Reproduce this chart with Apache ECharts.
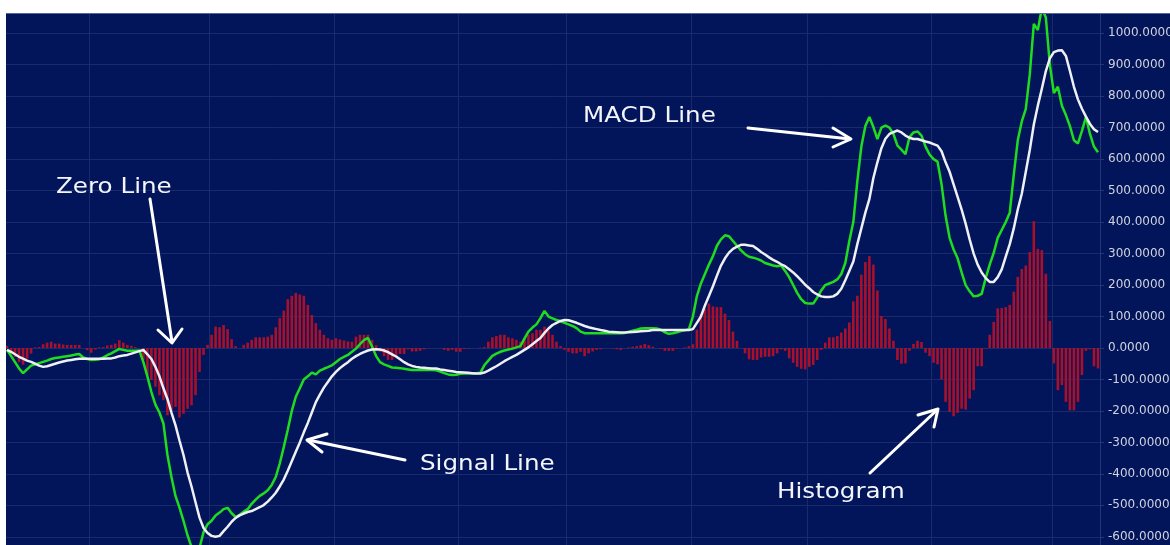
<!DOCTYPE html>
<html>
<head>
<meta charset="utf-8">
<title>MACD</title>
<script src="https://cdn.jsdelivr.net/npm/echarts@6/dist/echarts.min.js"></script>
<style>
  html, body { margin: 0; padding: 0; background: #ffffff; }
  #chart { width: 1170px; height: 545px; }
</style>
</head>
<body>
<div id="chart"></div>
<script>
// MACD (green) values, one per bar
const macdLine = [
  -6, -25, -45, -65, -80, -68, -56, -52, -48, -44,
  -40, -35, -32, -30, -28, -26, -24, -21, -19, -30,
  -35, -38, -37, -36, -30, -23, -17, -10, -3, -6,
  -9, -9, -9, -8, -45, -90, -140, -180, -205, -240,
  -340, -410, -470, -507, -549, -595, -632, -665, -635, -585,
  -560, -549, -532, -523, -512, -508, -525, -537, -530, -520,
  -512, -495, -482, -470, -462, -452, -435, -410, -367, -315,
  -260, -200, -155, -128, -100, -90, -78, -84, -72, -66,
  -61, -55, -45, -35, -28, -22, -12, -2, 12, 25,
  32, 5, -25, -45, -52, -57, -62, -63, -64, -66,
  -68, -70, -70, -70, -70, -70, -70, -71, -75, -80,
  -84, -86, -85, -82, -81, -81, -81, -80, -79, -55,
  -40, -25, -18, -12, -8, -5, -2, 2, 6, 30,
  52, 65, 75, 95, 118, 100, 94, 89, 85, 80,
  75, 70, 63, 52, 47, 47, 47, 47, 47, 47,
  47, 47, 47, 47, 48, 52, 55, 58, 62, 63,
  63, 63, 62, 58, 50, 45, 47, 50, 54, 56,
  60, 100, 165, 205, 235, 265, 292, 325, 345, 358,
  355, 340, 325, 310, 298, 290, 287, 283, 278, 270,
  266, 262, 260, 262, 245, 225, 200, 175, 155, 143,
  141, 141, 160, 183, 200, 205, 210, 218, 235, 270,
  340, 400, 530, 640, 705, 734, 702, 664, 700, 707,
  700, 680, 643, 630, 616, 670, 685, 688, 675, 640,
  615, 600, 592, 520, 420, 350, 313, 285, 240, 200,
  180, 164, 166, 172, 222, 265, 302, 350, 375, 400,
  430, 550, 660, 720, 760, 870, 1030, 1010, 1080, 1050,
  900, 810, 830, 770, 740, 705, 660, 650, 690, 734,
  680, 640, 622
];

// Signal (white) values
const signalLine = [
  -6, -12, -20, -28, -34, -40, -44, -50, -56, -60,
  -58, -54, -50, -46, -43, -40, -38, -36, -34, -34,
  -34, -34, -34, -34, -34, -33, -33, -30, -26, -24,
  -22, -18, -14, -10, -6, -20, -35, -60, -90, -128,
  -162, -205, -245, -294, -340, -395, -440, -490, -539, -572,
  -588, -597, -600, -597, -582, -568, -552, -540, -532, -526,
  -521, -518, -512, -506, -499, -488, -475, -460, -440, -418,
  -390, -360, -330, -300, -268, -238, -205, -172, -148, -126,
  -108, -90, -76, -64, -54, -45, -34, -26, -19, -13,
  -8, -5, -4, -5, -8, -13, -20, -27, -36, -45,
  -52, -57, -60, -62, -63, -64, -65, -65, -68, -70,
  -72, -74, -76, -77, -78, -79, -80, -81, -81, -78,
  -72, -65, -58, -50, -42, -35, -28, -22, -14, -6,
  2, 12, 22, 32, 48, 62, 73, 80, 86, 89,
  88, 84, 80, 75, 70, 66, 63, 60, 57, 55,
  52, 51, 50, 49, 49, 50, 51, 52, 53, 54,
  55, 57, 57, 57, 57, 57, 57, 57, 57, 57,
  57, 60, 80, 100, 135, 165, 196, 230, 262, 285,
  303, 315, 322, 328, 328, 326, 324, 315, 305, 297,
  288, 280, 274, 266, 260, 250, 240, 228, 215, 201,
  190, 178, 170, 164, 162, 162, 164, 172, 188, 215,
  245, 275, 330, 380, 430, 473, 540, 590, 635, 665,
  680, 686, 691, 685, 675, 668, 664, 664, 660, 656,
  653, 648, 643, 625, 590, 560, 520, 480, 440, 395,
  345, 300, 265, 240, 222, 210, 210, 225, 250, 290,
  330, 380, 440, 490, 560, 630, 710, 770, 824, 880,
  920, 940, 945, 946, 928, 880, 830, 790, 760, 735,
  712, 695, 686
];

// Histogram (red bars)
const histogram = [
  7, -18, -29, -45, -53, -34, -18, 2, 3, 12,
  17, 20, 14, 14, 11, 10, 10, 10, 10, 0,
  -7, -15, -5, 2, 3, 8, 10, 14, 25, 17,
  10, 7, 3, 0, -38, -86, -102, -123, -150, -166,
  -214, -203, -187, -221, -209, -193, -182, -150, -76, -22,
  10, 42, 68, 66, 73, 60, 28, 6, 0, 10,
  17, 26, 34, 34, 34, 36, 42, 66, 95, 119,
  155, 166, 175, 170, 166, 137, 105, 79, 58, 42,
  31, 26, 31, 27, 24, 21, 20, 36, 42, 42,
  42, 26, 9, -12, -26, -38, -38, -30, -19, -19,
  -4, -11, -11, -9, -4, -1, 0, 0, 0, -6,
  -9, -6, -12, -12, -3, -2, 0, 0, 1, 3,
  20, 34, 38, 42, 42, 34, 31, 26, 20, 31,
  42, 47, 58, 58, 68, 55, 42, 20, 6, -6,
  -12, -17, -17, -12, -26, -17, -11, -6, -4, 0,
  0, -1, -4, -6, -1, 2, 4, 6, 9, 13,
  9, 4, 0, -3, -9, -9, -9, -2, 0, 2,
  6, 12, 58, 109, 124, 141, 132, 130, 130, 109,
  89, 52, 23, 0, -17, -36, -38, -38, -30, -28,
  -28, -26, -17, -4, -9, -33, -47, -60, -66, -68,
  -60, -54, -38, -6, 17, 34, 34, 38, 49, 62,
  81, 148, 166, 233, 273, 292, 265, 183, 102, 92,
  62, 23, -38, -50, -49, -9, 13, 23, 19, -15,
  -26, -47, -52, -100, -171, -203, -217, -206, -193, -196,
  -161, -134, -58, -58, -2, 42, 83, 126, 127, 130,
  137, 179, 226, 251, 262, 305, 403, 315, 311, 236,
  86, -49, -134, -118, -171, -198, -198, -171, -86, -9,
  -4, -58, -65
];

// bar numbers used as categories
const bars = histogram.map((_, i) => String(i + 1));

// bar indices where the vertical grid lines fall
const monthStarts = [21, 51, 82, 113, 140, 171, 200, 231, 261];

const yMin = -700;
const yMax = 1100;
const yStep = 100;

const chart = echarts.init(document.getElementById('chart'));

const labelFont = 'DejaVu Sans, Verdana, sans-serif';
const gridColor = '#192b6a';

function arrow(points, head) {
  return [
    {
      type: 'polyline',
      shape: { points: points },
      style: { stroke: '#ffffff', lineWidth: 3, lineCap: 'round', fill: null },
      z: 50
    },
    {
      type: 'polyline',
      shape: { points: head },
      style: { stroke: '#ffffff', lineWidth: 3, lineCap: 'round', lineJoin: 'round', fill: null },
      z: 50
    }
  ];
}

// annotation text; y is the top of the text box
function note(text, x, y) {
  return {
    type: 'text',
    x: x,
    y: y,
    scaleX: 1.2,
    z: 50,
    style: {
      text: text,
      fill: '#f4f5fa',
      font: '20.5px ' + labelFont,
      align: 'left',
      verticalAlign: 'top'
    }
  };
}

const option = {
  backgroundColor: '#02155a',
  animation: false,
  grid: {
    left: 5,
    right: 70,
    top: 1.8,
    bottom: -23.3,
    containLabel: false,
    outerBoundsMode: 'none'
  },
  xAxis: {
    type: 'category',
    data: bars,
    boundaryGap: true,
    axisLine: { show: false },
    axisTick: { show: false },
    axisLabel: { show: false },
    splitLine: {
      show: true,
      interval: (index) => monthStarts.indexOf(index) >= 0,
      lineStyle: { color: gridColor, width: 1 }
    }
  },
  yAxis: {
    type: 'value',
    position: 'right',
    min: yMin,
    max: yMax,
    interval: yStep,
    axisLine: { show: true, lineStyle: { color: '#24367a', width: 1 } },
    axisTick: { show: true, length: 4, lineStyle: { color: '#24367a' } },
    axisLabel: {
      margin: 8,
      color: '#cfd2de',
      fontFamily: labelFont,
      fontSize: 12,
      formatter: (v) => v.toFixed(4)
    },
    splitLine: { show: true, lineStyle: { color: gridColor, width: 1 } }
  },
  series: [
    {
      name: 'Histogram',
      type: 'bar',
      data: histogram,
      barWidth: 2.6,
      itemStyle: { color: '#a8102c' },
      z: 2
    },
    {
      name: 'MACD',
      type: 'line',
      data: macdLine,
      symbol: 'none',
      lineStyle: { color: '#1fdc1f', width: 2.5 },
      z: 3
    },
    {
      name: 'Signal',
      type: 'line',
      data: signalLine,
      symbol: 'none',
      lineStyle: { color: '#eef0f4', width: 2.5 },
      z: 4
    }
  ],
  graphic: [
    // white margins above and left of the panel
    { type: 'rect', shape: { x: 0, y: 0, width: 1170, height: 13 }, style: { fill: '#ffffff' }, z: 100 },
    { type: 'rect', shape: { x: 0, y: 0, width: 6, height: 545 }, style: { fill: '#ffffff' }, z: 100 },
    { type: 'line', shape: { x1: 6, y1: 13.5, x2: 1170, y2: 13.5 }, style: { stroke: '#56669c', lineWidth: 1 }, z: 100 },
    note('Zero Line', 56, 177),
    ...arrow([[150, 199], [172, 342]], [[158, 330], [172, 343], [182, 329]]),
    note('MACD Line', 583, 106),
    ...arrow([[748, 128], [850, 139]], [[833, 128], [851, 139], [833, 147]]),
    note('Signal Line', 420, 454),
    ...arrow([[405, 460], [308, 440]], [[327, 434], [307, 440], [322, 452]]),
    note('Histogram', 777, 482),
    ...arrow([[870, 473], [937, 410]], [[918, 415], [938, 409], [934, 427]])
  ]
};

chart.setOption(option);
</script>
</body>
</html>
